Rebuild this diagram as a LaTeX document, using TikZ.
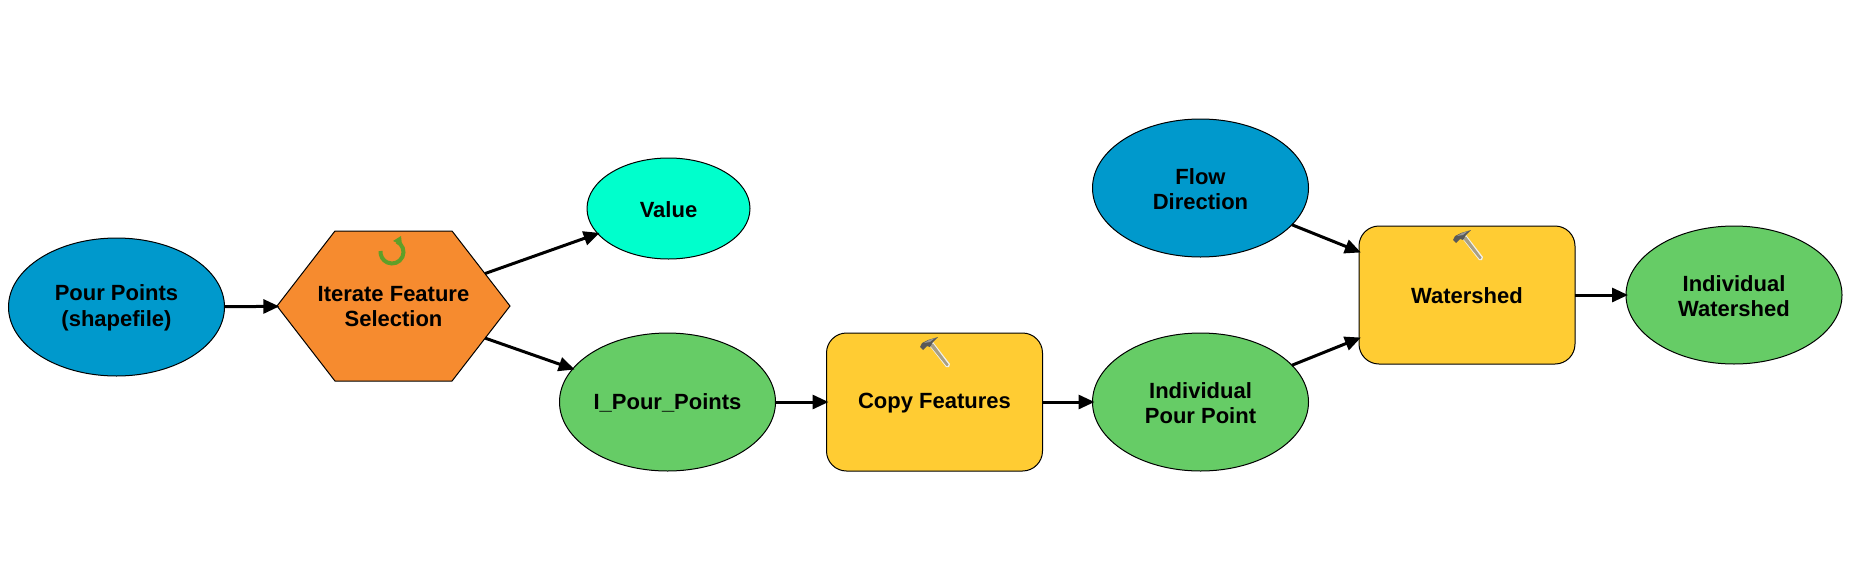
\documentclass[tikz,border=0pt]{standalone}
\usepackage{fontspec}
\setmainfont{Liberation Sans}
\usetikzlibrary{arrows.meta,shapes.geometric,shapes.symbols}
\definecolor{srcblue}{HTML}{0099CC}
\definecolor{derived}{HTML}{66CC66}
\definecolor{toolyellow}{HTML}{FFCC33}
\definecolor{iterorange}{HTML}{F68B2F}
\definecolor{valueaqua}{HTML}{00FFCC}
\definecolor{loopgreen}{HTML}{5F9F28}
\definecolor{handletan}{HTML}{A89F85}
\tikzset{
  x=0.5pt,y=-0.5pt,
  label text/.style={font=\fontsize{11}{12.6}\selectfont\bfseries,align=center,text=black,
    inner sep=0pt,yshift=-0.4pt},
  data/.style={ellipse,draw=black,line width=0.5pt,inner sep=0pt,outer sep=0pt,
    minimum width=108pt,minimum height=69pt},
  input/.style={data,fill=srcblue},
  derived data/.style={data,fill=derived},
  value data/.style={data,fill=valueaqua,minimum width=81.5pt,minimum height=50.5pt},
  tool/.style={rectangle,rounded corners=10pt,draw=black,line width=0.5pt,fill=toolyellow,
    inner sep=0pt,outer sep=0pt,minimum width=108pt,minimum height=69pt},
  iterator/.style={signal,signal from=nowhere,signal to=east and west,signal pointer angle=104.6,
    draw=black,line width=0.5pt,fill=iterorange,inner sep=0pt,outer sep=0pt,
    minimum width=116.5pt,minimum height=75pt},
  flow/.style={-{Triangle[length=8pt,width=7pt]},line width=1.5pt,black,shorten >=-1pt},
  hammer/.pic={
    % handle with a pale halo, then the steel head
    \fill[white!85!handletan] (8,8) -- (13,6) -- (30,28) -- (29,31) -- (26,31) -- cycle;
    \fill[handletan] (9.5,9) -- (13,7.5) -- (28.5,28.5) -- (27.5,30) -- (26.5,30) -- cycle;
    \fill[black!65] (0,11) -- (2,7) -- (8,4) -- (18,1) -- (13,6) -- (10,11) -- (7,10) -- (3,14) -- cycle;
    \fill[black!40] (4,7) -- (9,4) -- (15,2) -- (10,6) -- cycle;
  },
  loop icon/.pic={
    \draw[loopgreen,line width=2pt] (-65:11.5) arc[start angle=-65,end angle=185,radius=11.5];
    \fill[loopgreen] (1,-11) -- (9,-16) -- (10,-7) -- cycle;
  }
}
\begin{document}
\begin{tikzpicture}
\useasboundingbox (0,0) rectangle (1863,584);
% model elements
\node[input] (pour) at (116.5,307) {};
\node[iterator] (iter) at (393.5,306) {};
\node[value data] (value) at (668.5,208.5) {};
\node[derived data] (ipour) at (667.5,402) {};
\node[tool] (copy) at (934.5,402) {};
\node[derived data] (indpour) at (1200.5,402) {};
\node[input] (flowdir) at (1200.5,188) {};
\node[tool] (shed) at (1467,295) {};
\node[derived data] (indshed) at (1734,295) {};
% element names
\node[label text] (pourtext) at (pour.center) {Pour Points\\(shapefile)};
\node[label text] (itertext) at (iter.center) {Iterate Feature\\Selection};
\node[label text] (valuetext) at (value.center) {Value};
\node[label text] (ipourtext) at (ipour.center) {I\_Pour\_Points};
\node[label text] (copytext) at (copy.center) {Copy Features};
\node[label text] (indpourtext) at (indpour.center) {Individual\\Pour Point};
\node[label text] (flowdirtext) at (flowdir.center) {Flow\\Direction};
\node[label text] (shedtext) at (shed.center) {Watershed};
\node[label text] (indshedtext) at (indshed.center) {Individual\\Watershed};
% process icons
\pic at (392,252) {loop icon};
\pic at (920,336) {hammer};
\pic at (1453,229) {hammer};
% connectors
\draw[flow] (pour) -- (iter);
\draw[flow] (iter) -- (value);
\draw[flow] (iter) -- (ipour);
\draw[flow] (ipour) -- (copy);
\draw[flow] (copy) -- (indpour);
\draw[flow] (flowdir) -- (shed);
\draw[flow] (indpour) -- (shed);
\draw[flow] (shed) -- (indshed);
\end{tikzpicture}
\end{document}
